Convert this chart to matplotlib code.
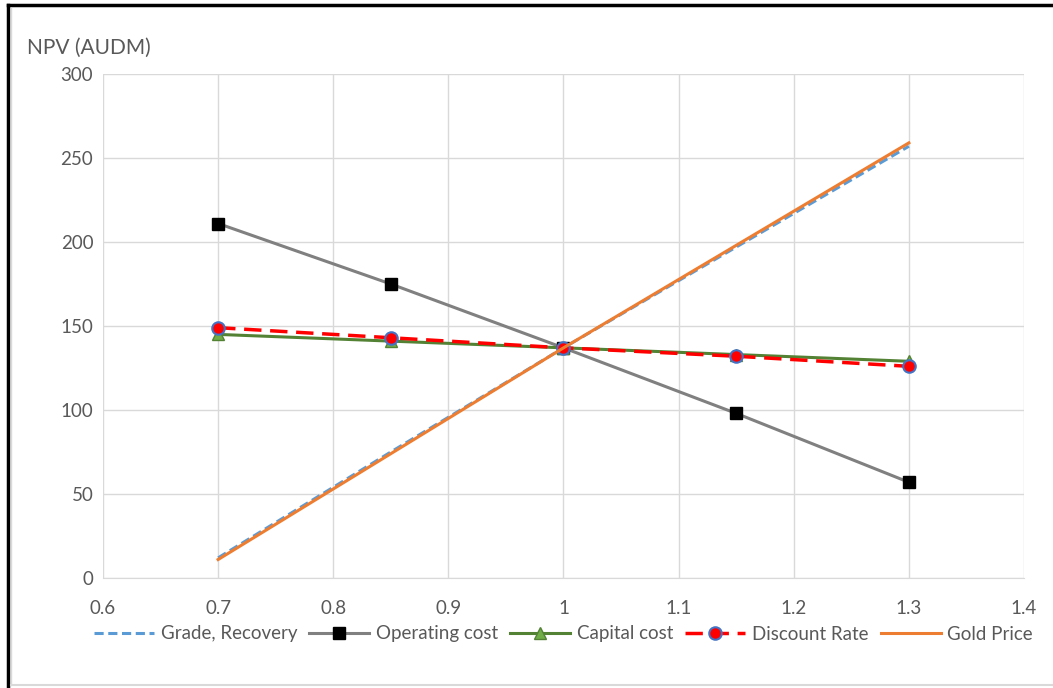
import matplotlib
matplotlib.use("Agg")
import matplotlib.pyplot as plt
from matplotlib.lines import Line2D

plt.rcParams['font.family'] = ['Lato', 'DejaVu Sans']

factors = [0.7, 0.85, 1.0, 1.15, 1.3]
grade_recovery = [12, 75, 137, 197, 257]
operating_cost = [211, 175, 137, 98, 57]
capital_cost = [145, 141, 137, 133, 129]
discount_rate = [149, 143, 137, 132, 126]
gold_price = [11, 74, 137, 198, 259]

x_ticks = [0.6, 0.7, 0.8, 0.9, 1.0, 1.1, 1.2, 1.3, 1.4]
x_tick_labels = ["0.6", "0.7", "0.8", "0.9", "1", "1.1", "1.2", "1.3", "1.4"]
y_ticks = [0, 50, 100, 150, 200, 250, 300]

fig = plt.figure(figsize=(10.53, 6.88), dpi=100)
ax = fig.add_axes([103/1053, 1-578/688, (1024-103)/1053, (578-74)/688])

txt = '#595959'
fs = 13.5
ax.plot(factors, grade_recovery, color='#5b9bd5', lw=2.2, ls=(0, (3, 1.5)), label='Grade, Recovery', zorder=3)
ax.plot(factors, operating_cost, color='#808080', lw=2.2, marker='s', ms=9,
        mfc='black', mec='black', label='Operating cost', zorder=3)
ax.plot(factors, capital_cost, color='#548235', lw=2.2, marker='^', ms=8,
        mfc='#70ad47', mec='#548235', label='Capital cost', zorder=4)
ax.plot(factors, discount_rate, color='#ff0000', lw=2.5, ls=(0, (5, 2.5)), marker='o', ms=9,
        mfc='#ff0000', mec='#4472c4', mew=1.5, label='Discount Rate', zorder=5)
ax.plot(factors, gold_price, color='#ed7d31', lw=2.2, label='Gold Price', zorder=6)

ax.set_xlim(0.6, 1.4)
ax.set_ylim(0, 300)
ax.set_xticks(x_ticks)
ax.set_xticklabels(x_tick_labels)
ax.set_yticks(y_ticks)
ax.grid(True, color='#d9d9d9', lw=1)
ax.set_axisbelow(True)
for s in ['top', 'right', 'left']:
    ax.spines[s].set_visible(False)
ax.spines['bottom'].set_color('#d9d9d9')
ax.tick_params(axis='both', length=0, labelsize=fs, labelcolor=txt)
ax.tick_params(axis='x', pad=16)
ax.tick_params(axis='y', pad=7)

fig.text(27/1053, 1-48/688, 'NPV (AUDM)', fontsize=15, color=txt, va='center', ha='left')

leg = ax.legend(loc='center', bbox_to_anchor=(0.5, -56/504), ncol=5, frameon=False,
                fontsize=fs, handlelength=3.2, handletextpad=0.35, columnspacing=0.65,
                labelcolor=txt)

# outer frame
fig.add_artist(Line2D([8/1053, 8/1053], [0, 1-5/688], color='black', lw=2.5, transform=fig.transFigure))
fig.add_artist(Line2D([8/1053, 1], [1-5/688, 1-5/688], color='black', lw=2.5, transform=fig.transFigure))
fig.add_artist(Line2D([11/1053, 1], [1-685/688, 1-685/688], color='#d9d9d9', lw=1.5, transform=fig.transFigure))
fig.add_artist(Line2D([11/1053, 11/1053], [1-685/688, 1-8/688], color='#d9d9d9', lw=1, transform=fig.transFigure))

fig.savefig('out.png', dpi=100)
